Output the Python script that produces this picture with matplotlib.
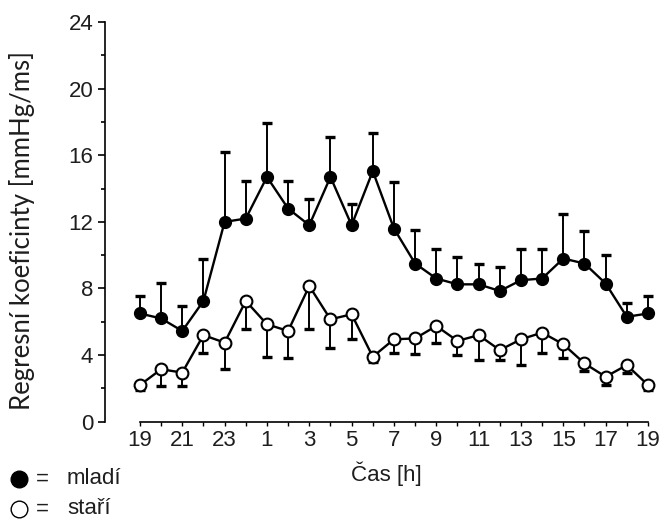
import matplotlib
matplotlib.use("Agg")
import matplotlib.pyplot as plt
from matplotlib.lines import Line2D
import numpy as np

plt.rcParams['font.family'] = ['Liberation Sans', 'DejaVu Sans']

# ---- data ----
hours = [19, 20, 21, 22, 23, 0, 1, 2, 3, 4, 5, 6, 7, 8, 9, 10, 11, 12, 13, 14, 15, 16, 17, 18, 19]
tick_labels = ['19', '21', '23', '1', '3', '5', '7', '9', '11', '13', '15', '17', '19']

mladi = [6.5, 6.2, 5.45, 7.25, 12.0, 12.2, 14.7, 12.8, 11.8, 14.7, 11.8, 15.05, 11.6,
         9.5, 8.6, 8.25, 8.25, 7.85, 8.5, 8.6, 9.8, 9.5, 8.3, 6.3, 6.5]
mladi_upper = [7.55, 8.35, 6.95, 9.8, 16.2, 14.45, 17.95, 14.45, 13.4, 17.1, 13.1, 17.35, 14.4,
               11.5, 10.4, 9.9, 9.5, 9.3, 10.4, 10.4, 12.5, 11.45, 10.0, 7.15, 7.55]

stari = [2.2, 3.15, 2.95, 5.2, 4.75, 7.25, 5.85, 5.45, 8.15, 6.15, 6.45, 3.9, 4.95,
         5.0, 5.75, 4.85, 5.2, 4.3, 4.95, 5.35, 4.65, 3.5, 2.7, 3.4, 2.2]
stari_lower = [1.9, 2.15, 2.15, 4.15, 3.15, 5.55, 3.9, 3.8, 5.55, 4.45, 4.95, 3.6, 4.1,
               4.05, 4.75, 4.0, 3.7, 3.7, 3.4, 4.1, 3.85, 3.05, 2.2, 2.95, 1.9]

ylabel = 'Regresní koeficinty [mmHg/ms]'
xlabel = 'Čas [h]'
legend_labels = ['mladí', 'staří']

# ---- figure ----
fig = plt.figure(figsize=(6.6, 5.21), dpi=100)
ax = fig.add_axes([105 / 660, 99.3 / 521, 550.4 / 660, 404.6 / 521])

x = np.arange(len(hours))
txt = '#1e1e1e'

m_err = np.array(mladi_upper) - np.array(mladi)
s_err = np.array(stari) - np.array(stari_lower)

ax.errorbar(x, mladi, yerr=[np.zeros_like(m_err), m_err], fmt='none', ecolor='black',
            elinewidth=1.4, capsize=3.6, capthick=2.4, zorder=2)
ax.plot(x, mladi, color='black', lw=1.7, marker='o', ms=8.5, mfc='black', mec='black', zorder=3)

ax.errorbar(x, stari, yerr=[s_err, np.zeros_like(s_err)], fmt='none', ecolor='black',
            elinewidth=1.4, capsize=3.6, capthick=2.4, zorder=2)
ax.plot(x, stari, color='black', lw=1.7, marker='o', ms=8.5, mfc='white', mec='black',
        mew=1.5, zorder=3)

ax.set_xlim(-1.65, 24.35)
ax.set_ylim(0, 24.3)

for s in ['top', 'right']:
    ax.spines[s].set_visible(False)
ax.spines['left'].set_bounds(0, 24)
ax.spines['bottom'].set_bounds(0, 24)
ax.spines['left'].set_linewidth(1.2)
ax.spines['bottom'].set_linewidth(1.2)

ax.set_yticks(np.arange(0, 25, 4))
ax.set_yticks(np.arange(0, 25, 2), minor=True)
ax.set_xticks(x[::2])
ax.set_xticklabels(tick_labels)
ax.set_xticks(x, minor=True)
ax.tick_params(axis='y', which='major', direction='out', length=5, width=1.2,
               labelsize=16, pad=3.5, labelcolor=txt)
ax.tick_params(axis='y', which='minor', direction='out', length=3, width=1.2)
ax.tick_params(axis='x', which='both', direction='out', length=3, width=1.0,
               labelsize=16, pad=3, labelcolor=txt)

# axis labels
fig.text(22 / 660, 1 - 231 / 521, ylabel, rotation=90, ha='center', va='center',
         fontsize=18.5, family=['Lato', 'DejaVu Sans'], color=txt)
fig.text(386 / 660, 1 - 474 / 521, xlabel, ha='center', va='center', fontsize=16, color=txt)

# legend
rows = [(479, 'black', legend_labels[0]), (509, 'white', legend_labels[1])]
for yy, fc, lab in rows:
    fig.add_artist(Line2D([19 / 660], [1 - yy / 521], transform=fig.transFigure, marker='o',
                          ms=12, mfc=fc, mec='black', mew=1.0, ls='none'))
    fig.text(36 / 660, 1 - yy / 521, '=', ha='left', va='center', fontsize=16, color=txt)
    fig.text(67 / 660, 1 - yy / 521, lab, ha='left', va='center', fontsize=16, color=txt)

fig.savefig('out.png', dpi=100)
